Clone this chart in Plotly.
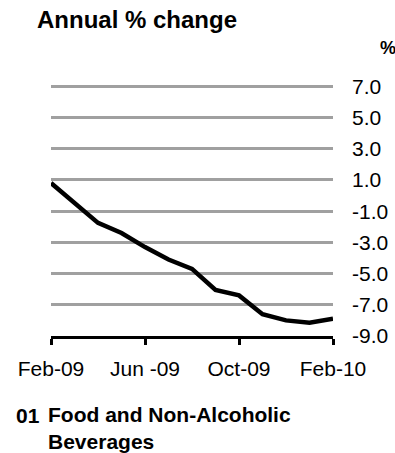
import plotly.graph_objects as go

# Annual % change, 01 Food and Non-Alcoholic Beverages
months = ["Feb-09", "Mar-09", "Apr-09", "May-09", "Jun-09", "Jul-09", "Aug-09",
          "Sep-09", "Oct-09", "Nov-09", "Dec-09", "Jan-10", "Feb-10"]
annual_change = [0.8, -0.45, -1.75, -2.4, -3.3, -4.1, -4.7,
                 -6.05, -6.4, -7.6, -8.0, -8.15, -7.9]

x_tick_months = ["Feb-09", "Jun-09", "Oct-09", "Feb-10"]
x_tick_labels = ["Feb-09", "Jun -09", "Oct-09", "Feb-10"]
y_ticks = [-9, -7, -5, -3, -1, 1, 3, 5, 7]
y_tick_labels = ["-9.0", "-7.0", "-5.0", "-3.0", "-1.0", "1.0", "3.0", "5.0", "7.0"]

FONT = "Liberation Sans, Arial, sans-serif"
W, H = 395, 453
Y_MIN, Y_MAX = -9, 7.15
PX_PER_UNIT = 250 / 16
M_L, M_R, M_B = 51, 62, 117
M_T = round(86 - (Y_MAX - 7) * PX_PER_UNIT)
plot_h = H - M_T - M_B
plot_w = W - M_L - M_R


def px_to_paper_y(py):
    return (H - M_B - py) / plot_h


def px_to_paper_x(px):
    return (px - M_L) / plot_w


fig = go.Figure()
fig.add_trace(go.Scatter(
    x=months, y=annual_change, mode="lines",
    line=dict(color="black", width=4.5),
    hoverinfo="skip", showlegend=False,
))

fig.update_layout(
    width=W, height=H,
    margin=dict(l=M_L, r=M_R, t=M_T, b=M_B, autoexpand=False),
    paper_bgcolor="white", plot_bgcolor="white",
    font=dict(family=FONT, color="black"),
    xaxis=dict(
        type="category", categoryorder="array", categoryarray=months,
        range=[0, len(months) - 1], automargin=False,
        tickmode="array", tickvals=x_tick_months, ticktext=x_tick_labels,
        showgrid=False, zeroline=False,
        showline=True, linecolor="black", linewidth=3,
        ticks="outside", ticklen=6, tickwidth=3, tickcolor="black",
        tickfont=dict(size=21, family=FONT, color="black"),
        ticklabelstandoff=6,
    ),
    yaxis=dict(
        side="right", range=[Y_MIN, Y_MAX], automargin=False,
        tickmode="array", tickvals=y_ticks, ticktext=y_tick_labels,
        showgrid=True, gridcolor="#a0a0a0", gridwidth=3,
        zeroline=False, showline=False, ticks="",
        tickfont=dict(size=21, family=FONT, color="black"),
        ticklabelstandoff=18,
    ),
)

annotations = [
    dict(text="<b>Annual % change</b>", x=px_to_paper_x(35), y=px_to_paper_y(19),
         xanchor="left", yanchor="middle", font=dict(size=24, family=FONT, color="black")),
    dict(text="<b>%</b>", x=px_to_paper_x(388), y=px_to_paper_y(48),
         xanchor="center", yanchor="middle", font=dict(size=18, family=FONT, color="black")),
    dict(text="<b>01</b>", x=px_to_paper_x(14), y=px_to_paper_y(415),
         xanchor="left", yanchor="middle", font=dict(size=21, family=FONT, color="black")),
    dict(text="<b>Food and Non-Alcoholic<br>Beverages</b>", x=px_to_paper_x(46), y=px_to_paper_y(401),
         xanchor="left", yanchor="top", align="left", font=dict(size=21, family=FONT, color="black")),
]
for a in annotations:
    a.update(xref="paper", yref="paper", showarrow=False)
fig.update_layout(annotations=annotations)

fig.write_html("out.html")
